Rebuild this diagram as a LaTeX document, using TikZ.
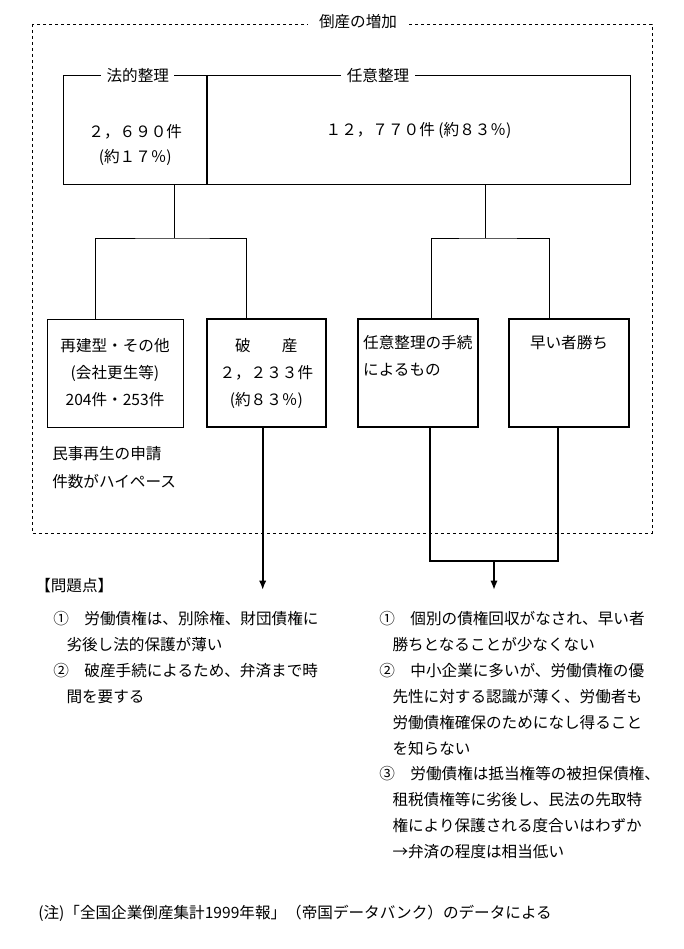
\documentclass[tikz,border=0pt]{standalone}
\usepackage{fontspec}
\setmainfont{Noto Sans CJK JP}
\usetikzlibrary{arrows.meta}

\begin{document}
\begin{tikzpicture}[
  x=0.75pt, y=-0.75pt,
  font=\fontsize{11.7pt}{19.5pt}\selectfont,
  thinbox/.style={draw, line width=0.75pt, minimum height=81pt, inner sep=0pt, align=center,
    font=\fontsize{11.7pt}{20.25pt}\selectfont},
  thickbox/.style={thinbox, line width=1.5pt},
  tag/.style={fill=white, inner xsep=4pt, inner ysep=1pt},
  link/.style={line width=0.75pt},
  flow/.style={line width=1.5pt},
  arrow/.style={-{Latex[length=7pt,width=5.5pt]}, line width=1.5pt},
  frame/.style={dash pattern=on 2.5pt off 2pt, line width=0.6pt},
  note/.style={align=left, anchor=west, inner sep=0pt}
]
\useasboundingbox (0,0) rectangle (683,949);

\draw[frame] (32,24) rectangle (652,533);
\node[tag, inner xsep=8pt] (title) at (358,22) {倒産の増加};

\node[thinbox, minimum width=107.6pt, font=\fontsize{11.7pt}{18.75pt}\selectfont] (legal) at (135.25,130) {\strut\\２，６９０件\\(約１７％)};
\node[thinbox, minimum width=317.25pt] (volun) at (418.5,130) {１２，７７０件 (約８３％)};
\node[tag] (legallab) at (137.75,76) {法的整理};
\node[tag] (volunlab) at (378,76) {任意整理};

\node[thinbox, minimum width=102pt] (rebuild) at (115,373) {再建型・その他\\(会社更生等)\\204件・253件};
\node[thickbox, minimum width=89.5pt] (bankrupt) at (266.3,373) {破　　産\\２，２３３件\\(約８３％)};
\node[thickbox, minimum width=89.7pt, align=left] (manual) at (417.8,373) {任意整理の手続\\によるもの\\\strut};
\node[thickbox, minimum width=90pt] (race) at (569,373) {早い者勝ち\\\strut\\\strut};
\node[note, font=\fontsize{11.7pt}{21pt}\selectfont] (civil) at (52,468) {民事再生の申請\\件数がハイペース};

\coordinate (legaljoin) at (174,238);
\coordinate (voljoin) at (485.6,238);
\draw[link] (legal.south -| legaljoin) -- (legaljoin);
\draw[link] ([xshift=-14.5pt]rebuild.north) |- (legaljoin) -| ([xshift=-14.5pt]bankrupt.north);
\draw[link] (volun.south -| voljoin) -- (voljoin);
\draw[link] ([xshift=9.9pt]manual.north) |- (voljoin) -| ([xshift=-14.3pt]race.north);

\coordinate (leftend) at (262.7,590);
\coordinate (rightjoin) at (494,561);
\coordinate (rightend) at (494,590);
\draw[arrow] (bankrupt.south -| leftend) -- (leftend);
\draw[flow] ([xshift=9.45pt]manual.south) |- (rightjoin) -| ([xshift=-8.25pt]race.south);
\draw[arrow] (rightjoin) -- (rightend);

\node[note] (issues) at (35,586) {【問題点】};
\node[note] (issue1) at (53,632) {①　労働債権は、別除権、財団債権に\\\hspace*{0.85em}劣後し法的保護が薄い};
\node[note] (issue2) at (53,684) {②　破産手続によるため、弁済まで時\\\hspace*{0.85em}間を要する};

\node[note] (point1) at (379,632) {①　個別の債権回収がなされ、早い者\\\hspace*{0.85em}勝ちとなることが少なくない};
\node[note] (point2) at (379,709) {②　中小企業に多いが、労働債権の優\\\hspace*{0.85em}先性に対する認識が薄く、労働者も\\\hspace*{0.85em}労働債権確保のためになし得ること\\\hspace*{0.85em}を知らない};
\node[note] (point3) at (379,813) {③　労働債権は抵当権等の被担保債権、\\\hspace*{0.85em}租税債権等に劣後し、民法の先取特\\\hspace*{0.85em}権により保護される度合いはわずか\\\hspace*{0.85em}→弁済の程度は相当低い};

\node[note] (source) at (38,913) {(注)「全国企業倒産集計1999年報」（帝国データバンク）のデータによる};
\end{tikzpicture}
\end{document}
